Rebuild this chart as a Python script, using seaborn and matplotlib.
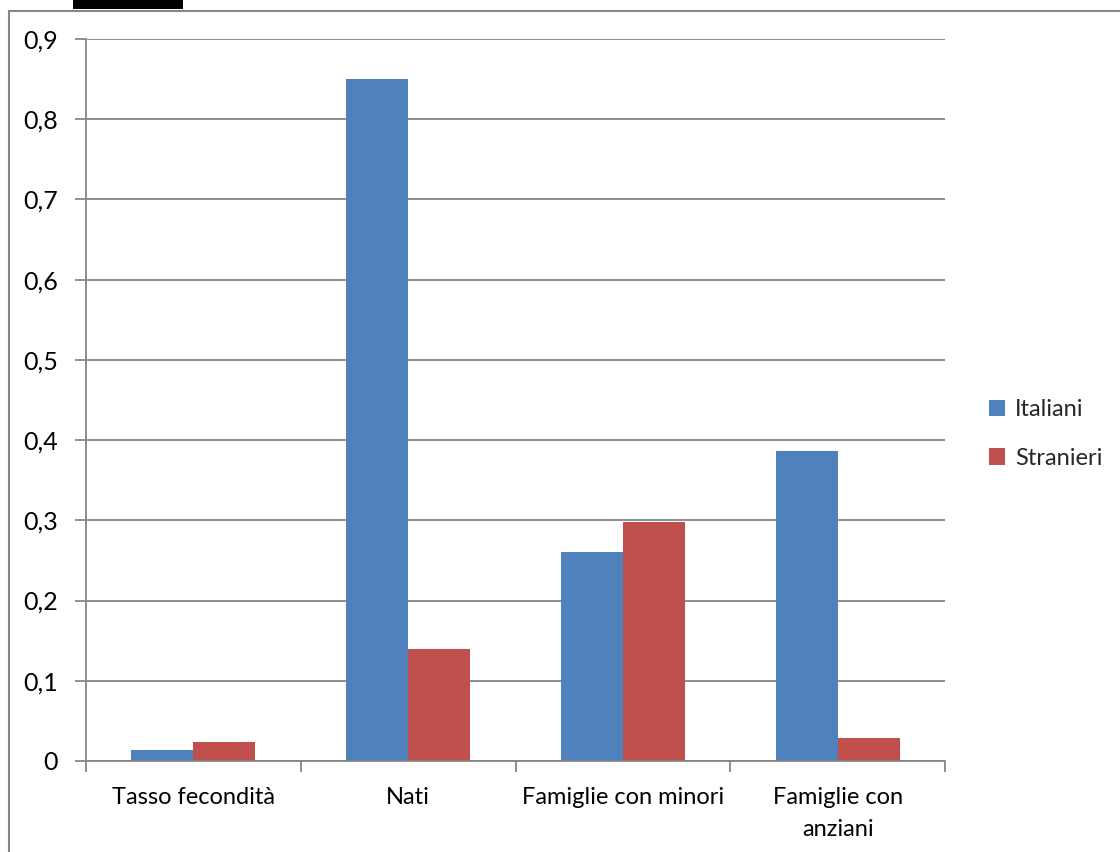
import matplotlib
matplotlib.use("Agg")
import matplotlib.pyplot as plt
from matplotlib.patches import Rectangle
from matplotlib.ticker import FuncFormatter, MultipleLocator, FixedLocator
import seaborn as sns
import pandas as pd

categories = ["Tasso fecondità", "Nati", "Famiglie con minori", "Famiglie con\nanziani"]
italiani = [0.0137, 0.85, 0.261, 0.386]
stranieri = [0.024, 0.14, 0.298, 0.0287]
series_names = ["Italiani", "Stranieri"]
colors = ["#4F81BD", "#C0504D"]

df = pd.DataFrame({
    "categoria": categories * 2,
    "valore": italiani + stranieri,
    "serie": [series_names[0]] * len(categories) + [series_names[1]] * len(categories),
})

sns.set_theme(style="white")
plt.rcParams["font.family"] = ["Lato", "DejaVu Sans"]

FS = 17
fig = plt.figure(figsize=(11.2, 8.52), dpi=100)
ax = fig.add_axes([86 / 1120, 1 - 761 / 852, (945 - 86) / 1120, (761 - 39) / 852])

sns.barplot(data=df, x="categoria", y="valore", hue="serie", palette=colors,
            width=0.577, saturation=1, ax=ax, edgecolor="none", linewidth=0)

ax.set_ylim(0, 0.9)
ax.set_xlim(-0.5, len(categories) - 0.5)
ax.yaxis.set_major_locator(MultipleLocator(0.1))
ax.yaxis.set_major_formatter(FuncFormatter(
    lambda v, _: "0" if abs(v) < 1e-9 else f"{v:.1f}".replace(".", ",")))
ax.grid(axis="y", color="#868686", linewidth=1.3)
ax.set_axisbelow(True)
ax.set_xlabel("")
ax.set_ylabel("")

for side in ["top", "right"]:
    ax.spines[side].set_visible(False)
for side in ["left", "bottom"]:
    ax.spines[side].set_color("#868686")
    ax.spines[side].set_linewidth(1.3)

# x ticks at category boundaries, labels centred under each group
ax.xaxis.set_major_locator(FixedLocator([i - 0.5 for i in range(len(categories) + 1)]))
ax.xaxis.set_major_formatter(FuncFormatter(lambda v, _: ""))
ax.xaxis.set_minor_locator(FixedLocator(list(range(len(categories)))))
ax.set_xticklabels(categories, minor=True)
ax.tick_params(axis="x", which="major", direction="out", length=8, width=1.3,
               color="#868686", bottom=True)
ax.tick_params(axis="x", which="minor", length=0, labelsize=FS, pad=19, colors="black")
for lbl in ax.get_xticklabels(minor=True):
    lbl.set_linespacing(1.6)
    lbl.set_verticalalignment("top")
ax.tick_params(axis="y", direction="out", length=8, width=1.3, color="#868686",
               left=True, labelsize=FS + 1, pad=12)
ax.tick_params(axis="y", colors="#868686", labelcolor="black")

handles, labels = ax.get_legend_handles_labels()
leg = ax.legend(handles, labels, loc="center left", bbox_to_anchor=(1.04, 0.453),
                frameon=False, fontsize=FS, handlelength=0.7, handleheight=0.7,
                handletextpad=0.4, labelspacing=1.15, borderaxespad=0)

# outer chart frame and caption marker
fig.patches.append(Rectangle((9 / 1120, -0.01), 1.02, 1 - 11 / 852 + 0.01,
                             transform=fig.transFigure, fill=False,
                             edgecolor="#868686", linewidth=1.5))
fig.patches.append(Rectangle((73 / 1120, 1 - 9 / 852), 110 / 1120, 9 / 852,
                             transform=fig.transFigure, facecolor="black",
                             edgecolor="none"))

fig.savefig("out.png", dpi=100)
